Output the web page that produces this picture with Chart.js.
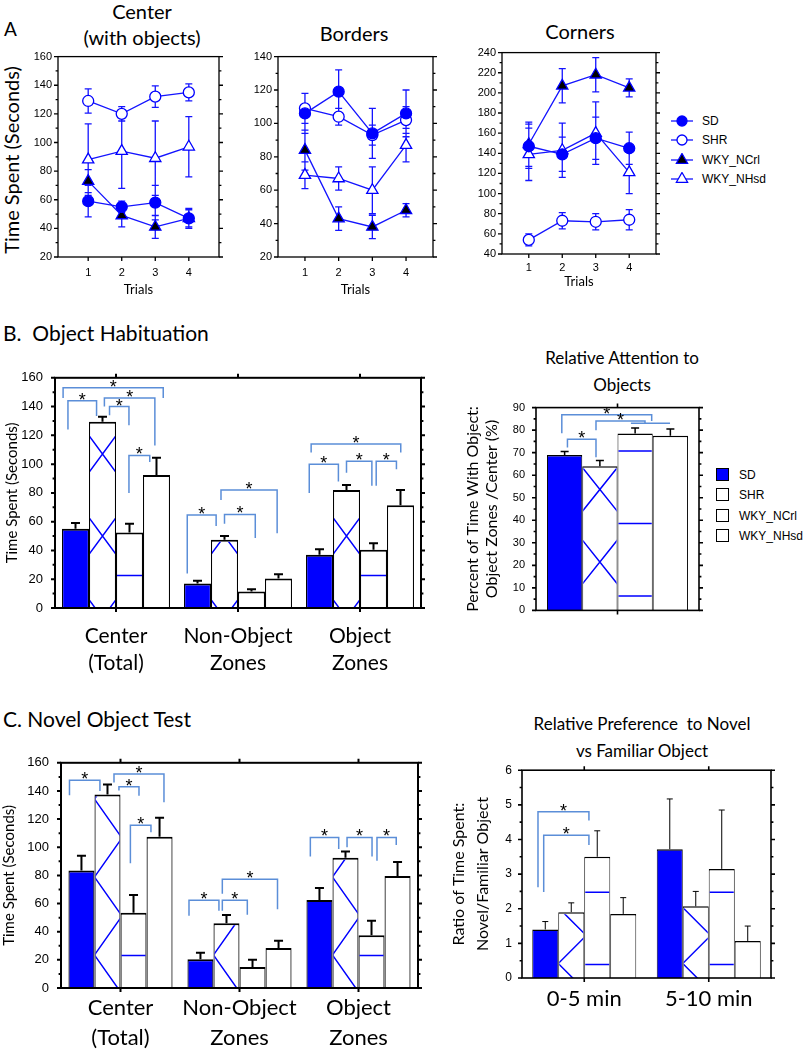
<!DOCTYPE html>
<html>
<head>
<meta charset="utf-8">
<script src="https://cdn.jsdelivr.net/npm/chart.js@4.4.1/dist/chart.umd.min.js"></script>
<style>
  body { margin: 0; width: 803px; height: 1050px; position: relative; background: #fff; overflow: hidden; font-family: Lato, sans-serif; color: #000; }
  canvas { position: absolute; }
  .t { position: absolute; white-space: nowrap; line-height: 1; }
  .c { transform: translate(-50%, -50%); }
  .v { transform: translate(-50%, -50%) rotate(-90deg); }
  .lg { position: absolute; font: 12px Arial, "Liberation Sans", sans-serif; white-space: nowrap; }
</style>
</head>
<body>

<div class="t" style="left:4px;top:19px;font-size:19px">A</div>
<div class="t c" style="left:142px;top:11px;font-size:20px">Center</div>
<div class="t c" style="left:142px;top:37px;font-size:20px">(with objects)</div>
<div class="t c" style="left:354px;top:33px;font-size:20px">Borders</div>
<div class="t c" style="left:580px;top:31px;font-size:20px">Corners</div>
<div class="t v" style="left:11px;top:160px;font-size:20px">Time Spent (Seconds)</div>

<div class="t" style="left:3px;top:322px;font-size:21px">B.&nbsp; Object Habituation</div>
<div class="t c" style="left:622px;top:357px;font-size:17px">Relative Attention to</div>
<div class="t c" style="left:622px;top:384px;font-size:17px">Objects</div>

<div class="t" style="left:3px;top:708px;font-size:21px">C. Novel Object Test</div>
<div class="t c" style="left:642px;top:723px;font-size:17px">Relative Preference&nbsp; to Novel</div>
<div class="t c" style="left:642px;top:750px;font-size:17px">vs Familiar Object</div>

<canvas id="center" width="209" height="258" style="left:18px;top:44px"></canvas>
<canvas id="borders" width="203" height="258" style="left:238px;top:44px"></canvas>
<canvas id="corners" width="202" height="259" style="left:462px;top:40px"></canvas>
<canvas id="habit" width="431" height="322" style="left:0px;top:358px"></canvas>
<canvas id="attention" width="247" height="238" style="left:458px;top:390px"></canvas>
<canvas id="novel" width="428" height="307" style="left:0px;top:743px"></canvas>
<canvas id="preference" width="333" height="275" style="left:446px;top:753px"></canvas>

<div id="legendA"></div>
<div id="legendB"></div>

<script>
// ---- data ----
const groups = ["SD", "SHR", "WKY_NCrl", "WKY_NHsd"];
const trials = [1, 2, 3, 4];

// A: time spent per trial (mean, sem)
const centerSD = [59, 55, 58, 47],       centerSDErr = [11, 4, 12, 6];
const centerSHR = [129, 120, 132, 135],  centerSHRErr = [8.5, 5, 7.5, 6];
const centerNCrl = [73, 49, 41, 47],     centerNCrlErr = [8, 8, 8, 7];
const centerNHsd = [88, 94, 89, 97],     centerNHsdErr = [25, 26, 26, 21];

const bordersSD = [106, 119, 94, 106],   bordersSDErr = [12, 13, 15, 14];
const bordersSHR = [109, 104, 93, 102],  bordersSHRErr = [9, 5, 6, 8];
const bordersNCrl = [84, 43, 38, 48],    bordersNCrlErr = [12, 7, 7, 4];
const bordersNHsd = [69, 67, 60, 87],    bordersNHsdErr = [8, 7, 14, 10];

const cornersSD = [147, 139, 155, 145],  cornersSDErr = [22, 17, 21, 16];
const cornersSHR = [54, 73, 72, 74],     cornersSHRErr = [6, 8, 8, 10];
const cornersNCrl = [149, 207, 218, 205], cornersNCrlErr = [22, 17, 17, 9];
const cornersNHsd = [139, 143, 160, 121], cornersNHsdErr = [26, 27, 31, 21];

// B: object habituation
const zoneCats = [["Center", "(Total)"], ["Non-Object", "Zones"], ["Object", "Zones"]];
const habitSD = [55, 17, 37],        habitSDErr = [4, 2, 3.8];
const habitSHR = [129.5, 47.5, 82],  habitSHRErr = [3.5, 2.5, 3.5];
const habitNCrl = [52.5, 11.5, 40.5], habitNCrlErr = [6, 1.5, 4.5];
const habitNHsd = [92.5, 20.5, 71.5], habitNHsdErr = [12, 3, 10.5];
// [category, from bar, to bar, level, left drop, right drop, star]
const habitBrackets = [
  [0, 0.04, 3.75, 153, 146, 146, 1],
  [0, 0.22, 1.28, 144, 124, 133.5, 1],
  [0, 1.57, 3.44, 146, 140, 113, 1],
  [0, 1.76, 2.48, 140, 134, 127, 1],
  [0, 2.48, 3.25, 106, 80, 101.5, 1],
  [1, 0.12, 1.19, 64.7, 24, 57, 1],
  [1, 1.5, 2.64, 65, 58.5, 48.6, 1],
  [1, 1.37, 3.45, 82, 75, 52, 1],
  [2, 0.19, 3.51, 114, 108, 108, 1],
  [2, 0.12, 1.2, 100, 80, 88, 1],
  [2, 1.5, 2.44, 102, 94, 85, 1],
  [2, 2.6, 3.35, 102, 85, 96.5, 1]
];

const attentionCats = [""];
const attentionMeans = [69, 64, 78.5, 77.5];
const attentionErr = [1.5, 2.5, 2.5, 3];
const attentionBrackets = [
  [0, 0.58, 1.39, 76, 72.3, 68, 1],
  [0, 0.42, 2.97, 86.8, 78.6, 84, 1],
  [0, 1.39, 2.78, 84, 80, 83, 1],
  [0, 2.38, 3.49, 83, 83, 83, 0]
];

// C: novel object test
const novelSD = [83.5, 20.5, 62.5],   novelSDErr = [10.5, 4.5, 8.5];
const novelSHR = [137.5, 46, 92.5],   novelSHRErr = [7, 5.8, 4.5];
const novelNCrl = [53.5, 15, 37.5],   novelNCrlErr = [12.5, 5, 10.3];
const novelNHsd = [107.5, 28.5, 79.5], novelNHsdErr = [13.5, 5, 10];
const novelBrackets = [
  [0, 0.04, 1.21, 147.6, 137, 140, 1],
  [0, 1.75, 3.67, 152, 146, 132, 1],
  [0, 1.94, 2.71, 143, 140.4, 136.6, 1],
  [0, 2.38, 3.17, 115.6, 88.6, 110.6, 1],
  [1, 0.06, 1.21, 62.4, 51.4, 54.8, 1],
  [1, 1.34, 2.3, 62.4, 54.8, 52, 1],
  [1, 1.34, 3.46, 77.3, 67, 55.9, 1],
  [2, 0.15, 1.24, 107, 93.5, 98.7, 1],
  [2, 1.56, 2.52, 107, 100, 93.5, 1],
  [2, 2.71, 3.45, 107, 90.4, 101.6, 1]
];

const prefCats = ["0-5 min", "5-10 min"];
const prefSD = [1.4, 3.72],   prefSDErr = [0.23, 1.45];
const prefSHR = [1.9, 2.07],  prefSHRErr = [0.27, 0.43];
const prefNCrl = [3.5, 3.15], prefNCrlErr = [0.75, 1.7];
const prefNHsd = [1.85, 1.07], prefNHsdErr = [0.47, 0.43];
const prefBrackets = [
  [0, 0.22, 2.18, 4.8, 2.62, 4.55, 1],
  [0, 0.44, 2.18, 4.12, 2.48, 3.84, 1]
];

// ---- styles ----
const BLUE = "#0000ff";
const LINE_BLUE = "#1414ff";
const BRACKET = "#5b8ed8";
Chart.defaults.font.family = 'Arial, "Liberation Sans", sans-serif';
Chart.defaults.color = "#000";

const barFills = [BLUE, "#fff", "#fff", "#fff"];

const markerStyles = [
  { pointStyle: "circle", pointRadius: 5.5, pointBackgroundColor: BLUE, pointBorderColor: BLUE },
  { pointStyle: "circle", pointRadius: 5.5, pointBackgroundColor: "#fff", pointBorderColor: BLUE },
  { pointStyle: "triangle", pointRadius: 6.5, pointBackgroundColor: "#000", pointBorderColor: BLUE },
  { pointStyle: "triangle", pointRadius: 6.5, pointBackgroundColor: "#fff", pointBorderColor: BLUE }
];

// ---- plugins ----
const framePlugin = {
  id: "frame",
  afterDraw(chart, args, o) {
    const { ctx, chartArea: a, scales } = chart;
    const y = scales.y, x = scales.x;
    ctx.save();
    ctx.strokeStyle = "#000";
    ctx.lineWidth = o.lw;
    ctx.strokeRect(a.left, a.top, a.right - a.left, a.bottom - a.top);
    ctx.beginPath();
    for (let v = y.min; v <= y.max + 1e-9; v += o.minor) {
      const py = y.getPixelForValue(v);
      const major = Math.abs(v / o.major - Math.round(v / o.major)) < 1e-6;
      const len = major ? o.tick : o.tick * 0.6;
      ctx.moveTo(a.left, py); ctx.lineTo(a.left - len, py);
      ctx.moveTo(a.right, py); ctx.lineTo(a.right + len, py);
    }
    x.ticks.forEach((t, i) => {
      const px = x.getPixelForTick(i);
      ctx.moveTo(px, a.bottom); ctx.lineTo(px, a.bottom + o.tick);
      if (o.top) { ctx.moveTo(px, a.top); ctx.lineTo(px, a.top - o.tick); }
    });
    ctx.stroke();
    ctx.restore();
  }
};

// hatching: SHR bars get a blue X lattice, WKY_NCrl bars blue horizontal lines
const hatchPlugin = {
  id: "hatch",
  afterDatasetsDraw(chart, args, o) {
    const { ctx } = chart;
    ctx.save();
    ctx.strokeStyle = BLUE;
    ctx.lineWidth = 1.5;
    chart.getDatasetMeta(1).data.forEach(el => {
      const l = el.x - el.width / 2, t = el.y, b = el.base;
      ctx.save();
      ctx.beginPath(); ctx.rect(l + 1, t + 2, el.width - 2, b - t - 2); ctx.clip();
      ctx.beginPath();
      const cx = el.x + o.xShift;
      for (let cy = b - o.yOff + 2 * o.h; cy > t - 2 * o.h; cy -= o.h) {
        for (let m = -1; m <= 1; m++) {
          const x0 = cx + m * o.w;
          ctx.moveTo(x0 - o.w / 2, cy - o.h / 2); ctx.lineTo(x0 + o.w / 2, cy + o.h / 2);
          ctx.moveTo(x0 + o.w / 2, cy - o.h / 2); ctx.lineTo(x0 - o.w / 2, cy + o.h / 2);
        }
      }
      ctx.stroke();
      ctx.restore();
    });
    ctx.beginPath();
    chart.getDatasetMeta(2).data.forEach(el => {
      const l = el.x - el.width / 2 + 1, r = el.x + el.width / 2 - 1;
      for (let y = el.base - o.lineOff; y > el.y + 3; y -= o.period) {
        ctx.moveTo(l, y); ctx.lineTo(r, y);
      }
    });
    ctx.stroke();
    ctx.restore();
  }
};

function drawErrors(chart, o) {
  const { ctx } = chart;
  const ys = chart.scales.y;
  ctx.save();
  ctx.strokeStyle = o.color;
  ctx.lineWidth = o.lw;
  ctx.beginPath();
  chart.data.datasets.forEach((ds, i) => {
    chart.getDatasetMeta(i).data.forEach((el, j) => {
      const d = ds.data[j];
      const v = typeof d === "object" ? d.y : d;
      const top = ys.getPixelForValue(v + ds.err[j]);
      const bot = o.both ? ys.getPixelForValue(v - ds.err[j]) : el.y;
      ctx.moveTo(el.x, top); ctx.lineTo(el.x, bot);
      ctx.moveTo(el.x - o.cap, top); ctx.lineTo(el.x + o.cap, top);
      if (o.both) { ctx.moveTo(el.x - o.cap, bot); ctx.lineTo(el.x + o.cap, bot); }
    });
  });
  ctx.stroke();
  ctx.restore();
}
const errPlugin = {
  id: "errbars",
  beforeDatasetsDraw(chart, args, o) { if (o.both) drawErrors(chart, o); },
  afterDatasetsDraw(chart, args, o) { if (!o.both) drawErrors(chart, o); }
};

const bracketPlugin = {
  id: "brackets",
  afterDatasetsDraw(chart, args, o) {
    const { ctx } = chart;
    const ys = chart.scales.y;
    const meta = chart.getDatasetMeta(0);
    ctx.save();
    o.items.forEach(b => {
      const el = meta.data[b[0]];
      const left = el.x - el.width / 2;
      const x1 = left + b[1] * el.width, x2 = left + b[2] * el.width;
      const y = ys.getPixelForValue(b[3]);
      ctx.strokeStyle = BRACKET;
      ctx.lineWidth = 1.5;
      ctx.beginPath();
      ctx.moveTo(x1, ys.getPixelForValue(b[4]));
      ctx.lineTo(x1, y); ctx.lineTo(x2, y);
      ctx.lineTo(x2, ys.getPixelForValue(b[5]));
      ctx.stroke();
      if (b[6]) {
        ctx.fillStyle = "#000";
        ctx.font = '18px Arial, "Liberation Sans"';
        ctx.textAlign = "center";
        ctx.textBaseline = "alphabetic";
        ctx.fillText("*", (x1 + x2) / 2, y + 5);
      }
    });
    ctx.restore();
  }
};

// ---- A: line charts ----
function lineChart(id, vals, errs, yMin, yMax, xMin, xMax, tickPad, titlePad) {
  return new Chart(document.getElementById(id), {
    type: "scatter",
    data: {
      datasets: vals.map((v, i) => Object.assign({
        label: groups[i],
        data: trials.map((t, j) => ({ x: t, y: v[j] })),
        err: errs[i],
        showLine: true,
        borderColor: LINE_BLUE,
        borderWidth: 1.3,
        pointBorderWidth: 1.3
      }, markerStyles[i]))
    },
    options: {
      responsive: false, animation: false, events: [],
      layout: { padding: { top: 8, right: 8 } },
      plugins: {
        legend: { display: false }, tooltip: { enabled: false },
        frame: { lw: 1.3, major: 20, minor: 10, tick: 4 },
        errbars: { color: LINE_BLUE, lw: 1.3, cap: 3.5, both: true }
      },
      scales: {
        x: {
          type: "linear", min: xMin, max: xMax,
          afterBuildTicks: s => { s.ticks = trials.map(v => ({ value: v })); },
          grid: { display: false, drawTicks: false }, border: { display: false },
          ticks: { font: { size: 11 }, padding: tickPad },
          title: { display: true, text: "Trials", font: { family: "Lato", size: 13 }, padding: { top: 0, bottom: titlePad } },
          afterFit: s => { s.height = 45; }
        },
        y: {
          min: yMin, max: yMax,
          ticks: { stepSize: 20, font: { size: 11 }, padding: 6 },
          grid: { display: false, drawTicks: false }, border: { display: false },
          afterFit: s => { s.width = 40; }
        }
      }
    },
    plugins: [framePlugin, errPlugin]
  });
}

lineChart("center",
  [centerSD, centerSHR, centerNCrl, centerNHsd],
  [centerSDErr, centerSHRErr, centerNCrlErr, centerNHsdErr], 20, 160, 0.1, 4.9, 9, 4);
lineChart("borders",
  [bordersSD, bordersSHR, bordersNCrl, bordersNHsd],
  [bordersSDErr, bordersSHRErr, bordersNCrlErr, bordersNHsdErr], 20, 140, 0.2, 4.8, 9, 4);
lineChart("corners",
  [cornersSD, cornersSHR, cornersNCrl, cornersNHsd],
  [cornersSDErr, cornersSHRErr, cornersNCrlErr, cornersNHsdErr], 40, 240, 0.2, 4.8, 7, 9);

// ---- B / C: bar charts ----
function barChart(id, cats, vals, errs, c) {
  return new Chart(document.getElementById(id), {
    type: "bar",
    data: {
      labels: cats,
      datasets: vals.map((v, i) => ({
        label: groups[i],
        data: v,
        err: errs[i],
        backgroundColor: barFills[i],
        borderColor: "#000",
        borderWidth: { top: c.bw, left: c.bw * 0.6, right: c.bw * 0.6, bottom: 0 },
        borderSkipped: false,
        barPercentage: 1,
        categoryPercentage: c.catPct
      }))
    },
    options: {
      responsive: false, animation: false, events: [],
      layout: { padding: { top: 8, right: c.padRight } },
      plugins: {
        legend: { display: false }, tooltip: { enabled: false },
        frame: { lw: c.frameLw, major: c.step, minor: c.step / 2, tick: 4, top: true },
        hatch: c.hatch,
        errbars: { color: "#000", lw: c.errLw, cap: c.cap, both: false },
        brackets: { items: c.brackets }
      },
      scales: {
        x: {
          grid: { display: false, drawTicks: false }, border: { display: false },
          ticks: { font: { family: "Lato", size: c.catSize, lineHeight: c.catLh }, padding: c.catPad,
                   maxRotation: 0, minRotation: 0, autoSkip: false },
          afterFit: s => { s.height = c.axisH; }
        },
        y: {
          min: 0, max: c.max,
          ticks: { stepSize: c.step, font: { size: c.tickSize }, padding: c.tickPad },
          grid: { display: false, drawTicks: false }, border: { display: false },
          title: { display: true, text: c.yTitle, font: { family: "Lato", size: c.titleSize, lineHeight: c.titleLh }, padding: { top: c.titlePad, bottom: 0 } },
          afterFit: s => { s.width = c.axisW; }
        }
      }
    },
    plugins: [framePlugin, hatchPlugin, errPlugin, bracketPlugin]
  });
}

barChart("habit", zoneCats,
  [habitSD, habitSHR, habitNCrl, habitNHsd],
  [habitSDErr, habitSHRErr, habitNCrlErr, habitNHsdErr],
  { max: 160, step: 20, axisW: 55, axisH: 72, padRight: 10, catPct: 0.885, bw: 2, frameLw: 2, errLw: 2, cap: 4.5,
    catSize: 21, catLh: 1.28, catPad: 15, tickSize: 13, tickPad: 12,
    yTitle: "Time Spent (Seconds)", titleSize: 15, titleLh: 1.2, titlePad: 3, brackets: habitBrackets,
    hatch: { w: 60, h: 82, xShift: 0, yOff: 72, lineOff: 32.5, period: 72.5 } });

barChart("attention", attentionCats,
  attentionMeans.map(v => [v]), attentionErr.map(e => [e]),
  { max: 90, step: 10, axisW: 78, axisH: 12, padRight: 6, catPct: 0.865, bw: 1.6, frameLw: 1.6, errLw: 1.5, cap: 4,
    catSize: 12, catLh: 1.2, catPad: 0, tickSize: 11, tickPad: 11,
    yTitle: ["Percent of Time With Object:", "Object Zones /Center (%)"], titleSize: 16, titleLh: 1.2, titlePad: 5,
    brackets: attentionBrackets,
    hatch: { w: 58, h: 72.6, xShift: 0, yOff: 48.4, lineOff: 14.5, period: 72.5 } });

barChart("novel", zoneCats,
  [novelSD, novelSHR, novelNCrl, novelNHsd],
  [novelSDErr, novelSHRErr, novelNCrlErr, novelNHsdErr],
  { max: 160, step: 20, axisW: 61, axisH: 62, padRight: 10, catPct: 0.875, bw: 2, frameLw: 2, errLw: 2, cap: 4.5,
    catSize: 22, catLh: 1.36, catPad: 5, tickSize: 13, tickPad: 12,
    yTitle: "Time Spent (Seconds)", titleSize: 15, titleLh: 1.2, titlePad: 0, brackets: novelBrackets,
    hatch: { w: 55, h: 78, xShift: -13, yOff: 33, lineOff: 32.6, period: 72.5 } });

barChart("preference", prefCats,
  [prefSD, prefSHR, prefNCrl, prefNHsd],
  [prefSDErr, prefSHRErr, prefNCrlErr, prefNHsdErr],
  { max: 6, step: 1, axisW: 76, axisH: 50, padRight: 8, catPct: 0.835, bw: 1.5, frameLw: 1.6, errLw: 1, cap: 3,
    catSize: 22, catLh: 1.2, catPad: 8, tickSize: 12, tickPad: 10,
    yTitle: ["Ratio of Time Spent:", "Novel/Familiar Object"], titleSize: 16, titleLh: 1.5, titlePad: 1,
    brackets: prefBrackets,
    hatch: { w: 56, h: 56, xShift: -13, yOff: 14.5, lineOff: 13.4, period: 72.4 } });

// ---- legends ----
const legendARows = [121, 140, 160, 179];
const legendA = document.getElementById("legendA");
groups.forEach((g, i) => {
  const m = markerStyles[i];
  const shape = m.pointStyle === "circle"
    ? '<circle cx="11" cy="7" r="5" fill="' + m.pointBackgroundColor + '" stroke="' + BLUE + '" stroke-width="1.3"/>'
    : '<polygon points="11,0.5 16.6,10.3 5.4,10.3" fill="' + m.pointBackgroundColor + '" stroke="' + BLUE + '" stroke-width="1.3"/>';
  legendA.insertAdjacentHTML("beforeend",
    '<svg style="position:absolute;left:671px;top:' + (legendARows[i] - 7) + 'px" width="23" height="14">' +
    '<line x1="0" y1="7" x2="22" y2="7" stroke="' + LINE_BLUE + '" stroke-width="1.3"/>' + shape + '</svg>' +
    '<div class="lg" style="left:702px;top:' + (legendARows[i] - 7) + 'px">' + g + '</div>');
});

const legendBRows = [475, 495, 516, 536];
const legendB = document.getElementById("legendB");
groups.forEach((g, i) => {
  legendB.insertAdjacentHTML("beforeend",
    '<div style="position:absolute;left:716px;top:' + (legendBRows[i] - 7) + 'px;width:11px;height:11px;border:1.5px solid #000;background:' + (i === 0 ? BLUE : "#fff") + '"></div>' +
    '<div class="lg" style="left:739px;top:' + (legendBRows[i] - 7) + 'px">' + g + '</div>');
});
</script>
</body>
</html>
